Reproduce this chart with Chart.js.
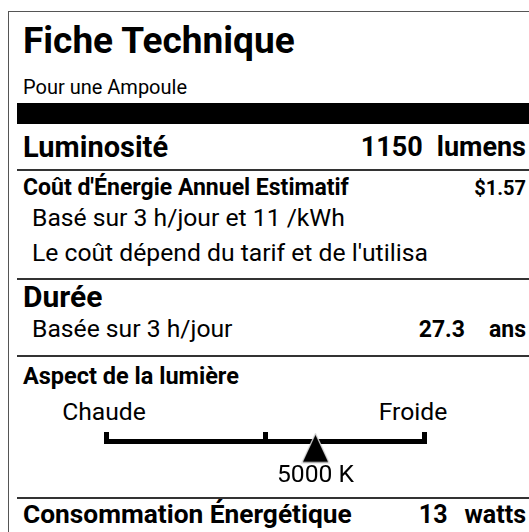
<!DOCTYPE html>
<html lang="fr">
<head>
<meta charset="utf-8">
<title>Fiche Technique</title>
<script src="https://cdn.jsdelivr.net/npm/chart.js@4.4.0/dist/chart.umd.min.js"></script>
<style>
  html, body { margin: 0; padding: 0; background: #fff; }
  body {
    width: 529px; height: 532px; overflow: hidden; position: relative;
    font-family: Roboto, "Liberation Sans", sans-serif; color: #000;
  }
  .cadre { position: absolute; left: 8px; top: 11px; width: 600px; height: 600px; border: 1px solid #555; }
  .t { position: absolute; line-height: 1; white-space: nowrap; }
  .g { font-weight: 700; }
  .d { right: 3px; text-align: right; }
  .c { transform: translateX(-50%); }
  .filet { position: absolute; left: 17px; right: 0; height: 2px; background: #333; }
  .bande { position: absolute; left: 17px; right: 0; top: 103px; height: 21px; background: #000; }
  #zone { position: absolute; left: 0; top: 420px; width: 529px; height: 70px; }
  #zone canvas { display: block; }
</style>
</head>
<body>
<div class="cadre"></div>

<div class="t g" style="left:23px; top:22px; font-size:37px;">Fiche Technique</div>
<div class="t" style="left:23px; top:77px; font-size:20px;">Pour une Ampoule</div>
<div class="bande"></div>

<div class="t g" style="left:23px; top:133px; font-size:29px;">Luminosité</div>
<div class="t g d" style="top:134px; font-size:27px;"><span id="v-lum"></span><span style="margin-left:14px;">lumens</span></div>
<div class="filet" style="top:169px;"></div>

<div class="t g" style="left:23px; top:176px; font-size:23px;">Coût d'Énergie Annuel Estimatif</div>
<div class="t g d" style="top:178px; font-size:20px;" id="v-cout"></div>
<div class="t" style="left:32px; top:206px; font-size:24.7px;">Basé sur 3 h/jour et 11 /kWh</div>
<div class="t" style="left:32px; top:241px; font-size:24.7px;">Le coût dépend du tarif et de l'utilisa</div>
<div class="filet" style="top:278px;"></div>

<div class="t g" style="left:23px; top:282px; font-size:30px;">Durée</div>
<div class="t" style="left:32px; top:317px; font-size:24.7px;">Basée sur 3 h/jour</div>
<div class="t g d" style="top:318px; font-size:23px;"><span id="v-duree"></span><span style="margin-left:24px;">ans</span></div>
<div class="filet" style="top:355px;"></div>

<div class="t g" style="left:23px; top:365px; font-size:23.5px;">Aspect de la lumière</div>
<div class="t c" id="lib-chaude" style="left:104px; top:400px; font-size:24.7px;"></div>
<div class="t c" id="lib-froide" style="left:413px; top:400px; font-size:24.7px;"></div>
<div id="zone"><canvas id="echelle" width="529" height="70"></canvas></div>
<div class="filet" style="top:497px;"></div>

<div class="t g" style="left:23px; top:501px; font-size:26.3px;">Consommation Énergétique</div>
<div class="t g d" style="top:502px; font-size:25px;"><span id="v-watts"></span><span style="margin-left:17px;">watts</span></div>

<script>
// --- Données de la fiche ---
const luminosite = [1150];
const coutAnnuel = [1.57];
const dureeAns = [27.3];
const puissanceW = [13];

// --- Échelle de couleur ---
const plageK = [2700, 6200];            // Chaude -> Froide
const reperesK = [2700, 4450, 6200];    // graduations
const extremites = ["Chaude", "Froide"];
const temperatureK = [5000];
const libellesK = ["5000 K"];

document.getElementById("v-lum").textContent = luminosite[0];
document.getElementById("v-cout").textContent = "$" + coutAnnuel[0].toFixed(2);
document.getElementById("v-duree").textContent = dureeAns[0];
document.getElementById("v-watts").textContent = puissanceW[0];
document.getElementById("lib-chaude").textContent = extremites[0];
document.getElementById("lib-froide").textContent = extremites[1];

// niveaux verticaux (axe y caché, 0 = bas du canvas)
const NIV_BARRE = 48.5;
const NIV_HAUT = 58;
const NIV_MARQUEUR = 42;
const NIV_LIBELLE = 8;

// triangle du marqueur
function creerTriangle() {
  const c = document.createElement("canvas");
  c.width = 29; c.height = 31;
  const g = c.getContext("2d");
  g.beginPath();
  g.moveTo(14.5, 1);
  g.lineTo(28, 30);
  g.lineTo(1, 30);
  g.closePath();
  g.fillStyle = "#000";
  g.fill();
  g.lineWidth = 1.2;
  g.strokeStyle = "#d8d8d8";
  g.stroke();
  return c;
}

// libellé de la température sous le marqueur
const libelleTemperature = {
  id: "libelleTemperature",
  afterDatasetsDraw(chart) {
    const { ctx, scales: { x, y } } = chart;
    ctx.save();
    ctx.font = "24.7px Roboto";
    ctx.fillStyle = "#000";
    ctx.textAlign = "center";
    ctx.textBaseline = "alphabetic";
    temperatureK.forEach((k, i) => {
      ctx.fillText(libellesK[i], x.getPixelForValue(k), y.getPixelForValue(NIV_LIBELLE));
    });
    ctx.restore();
  }
};

const crochet = [
  { x: plageK[0], y: NIV_HAUT },
  { x: plageK[0], y: NIV_BARRE },
  { x: plageK[1], y: NIV_BARRE },
  { x: plageK[1], y: NIV_HAUT }
];
const milieu = reperesK.slice(1, -1).flatMap(k => [{ x: k, y: NIV_BARRE }, { x: k, y: NIV_HAUT }]);

new Chart(document.getElementById("echelle").getContext("2d"), {
  type: "scatter",
  data: {
    datasets: [
      {
        data: temperatureK.map(k => ({ x: k, y: NIV_MARQUEUR })),
        pointStyle: creerTriangle(),
        pointRadius: 15,
        clip: false
      },
      {
        type: "line",
        data: milieu,
        borderColor: "#000",
        borderWidth: 5,
        borderCapStyle: "butt",
        pointRadius: 0,
        clip: false
      },
      {
        type: "line",
        data: crochet,
        borderColor: "#000",
        borderWidth: 5,
        borderJoinStyle: "miter",
        borderCapStyle: "butt",
        pointRadius: 0,
        tension: 0,
        clip: false
      }
    ]
  },
  options: {
    responsive: false,
    animation: false,
    events: [],
    layout: { autoPadding: false, padding: { left: 106.5, right: 104.5, top: 0, bottom: 0 } },
    plugins: { legend: { display: false }, tooltip: { enabled: false } },
    scales: {
      x: { type: "linear", display: false, min: plageK[0], max: plageK[1] },
      y: { type: "linear", display: false, min: 0, max: 70 }
    }
  },
  plugins: [libelleTemperature]
});
</script>
</body>
</html>
